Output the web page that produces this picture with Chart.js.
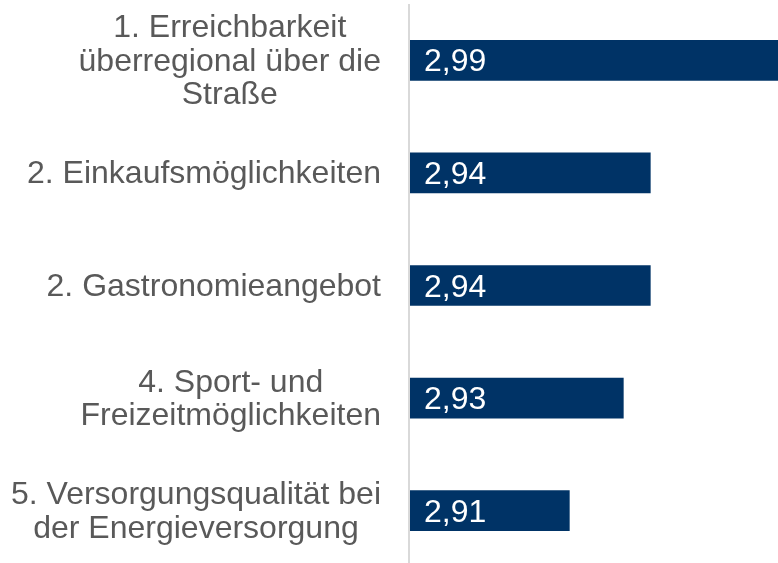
<!DOCTYPE html>
<html>
<head>
<meta charset="utf-8">
<script src="https://cdn.jsdelivr.net/npm/chart.js@4"></script>
<style>
  html, body { margin: 0; padding: 0; background: #ffffff; overflow: hidden; }
  #wrap { position: relative; width: 778px; height: 567px; }
</style>
</head>
<body>
<div id="wrap"><canvas id="c"></canvas></div>
<script>
const categories = [
  ["1. Erreichbarkeit", "überregional über die", "Straße"],
  ["2. Einkaufsmöglichkeiten"],
  ["2. Gastronomieangebot"],
  ["4. Sport- und", "Freizeitmöglichkeiten"],
  ["5. Versorgungsqualität bei", "der Energieversorgung"]
];
const values = [2.99, 2.94, 2.94, 2.93, 2.91];
const valueLabels = ["2,99", "2,94", "2,94", "2,93", "2,91"];

const FONT = '"Liberation Sans", Arial, sans-serif';
const FONT_SIZE = 32;

const labelPlugin = {
  id: 'customLabels',
  afterDraw(chart) {
    const ctx = chart.ctx;
    const area = chart.chartArea;
    const yScale = chart.scales.y;
    const xScale = chart.scales.x;
    ctx.save();
    // axis line
    ctx.strokeStyle = '#d9d9d9';
    ctx.lineWidth = 2;
    ctx.beginPath();
    ctx.moveTo(area.left, area.top);
    ctx.lineTo(area.left, chart.height);
    ctx.stroke();

    ctx.font = FONT_SIZE + 'px ' + FONT;
    const lh = 33.5;
    const rightEdge = area.left - 28;
    const basePx = xScale.getPixelForValue(xScale.min);
    categories.forEach((lines, i) => {
      const cy = yScale.getPixelForValue(i);
      const widths = lines.map(l => ctx.measureText(l).width);
      const maxW = Math.max(...widths);
      const cx = rightEdge - maxW / 2;
      ctx.fillStyle = '#595959';
      ctx.textAlign = 'center';
      ctx.textBaseline = 'alphabetic';
      lines.forEach((l, j) => {
        const by = cy + 10.5 + (j - (lines.length - 1) / 2) * lh;
        ctx.fillText(l, cx, by);
      });
      // value label inside bar
      ctx.fillStyle = '#ffffff';
      ctx.textAlign = 'left';
      ctx.fillText(valueLabels[i], basePx + 15, cy + 11);
    });
    ctx.restore();
  }
};

new Chart(document.getElementById('c'), {
  type: 'bar',
  data: {
    labels: categories,
    datasets: [{
      data: values,
      backgroundColor: '#003366',
      borderWidth: 0,
      barThickness: 40
    }]
  },
  options: {
    indexAxis: 'y',
    responsive: true,
    maintainAspectRatio: false,
    animation: false,
    layout: { padding: { left: 409, top: 4, right: 0, bottom: 0 } },
    plugins: { legend: { display: false }, tooltip: { enabled: false } },
    scales: {
      x: { display: false, min: 2.8506, max: 2.9873 },
      y: { display: false, offset: true }
    }
  },
  plugins: [labelPlugin]
});
</script>
</body>
</html>
